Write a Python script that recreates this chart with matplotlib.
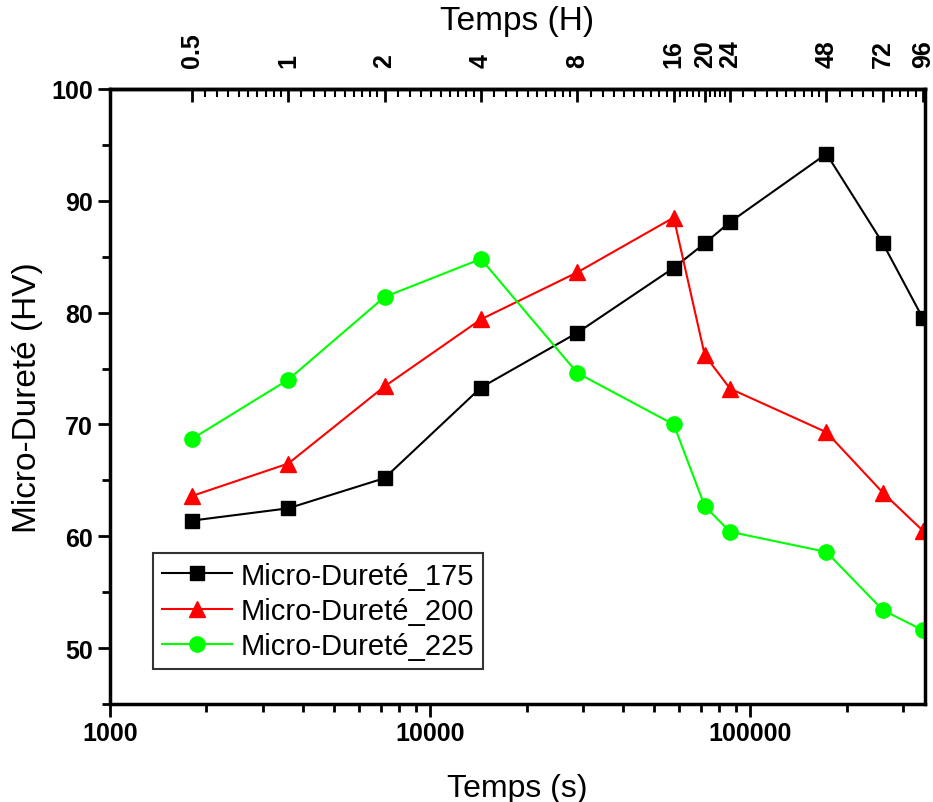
import matplotlib.pyplot as plt
import numpy as np
from matplotlib.ticker import FixedLocator, NullFormatter

plt.rcParams['font.family'] = ['Liberation Sans', 'DejaVu Sans']

# temps en heures
heures = np.array([0.5, 1, 2, 4, 8, 16, 20, 24, 48, 72, 96])
temps_s = heures * 3600

durete_175 = [61.4, 62.5, 65.2, 73.3, 78.2, 84.0, 86.2, 88.1, 94.2, 86.2, 79.5]
durete_200 = [63.6, 66.5, 73.4, 79.4, 83.6, 88.5, 76.2, 73.2, 69.3, 63.9, 60.5]
durete_225 = [68.7, 74.0, 81.4, 84.8, 74.6, 70.0, 62.7, 60.4, 58.6, 53.4, 51.6]

labels_h = ['0.5', '1', '2', '4', '8', '16', '20', '24', '48', '72', '96']

fig = plt.figure(figsize=(9.33, 8.03), dpi=100)
ax = fig.add_axes([0.118, 0.122, 0.873, 0.766])

ax.plot(temps_s, durete_175, color='black', marker='s', ms=10, lw=1.5, label='Micro-Dureté_175')
ax.plot(temps_s, durete_200, color='red', marker='^', ms=12, lw=1.5, label='Micro-Dureté_200')
ax.plot(temps_s, durete_225, color='#00ff00', marker='o', ms=11, lw=1.5, label='Micro-Dureté_225')

ax.set_xscale('log')
ax.set_xlim(1000, 350000)
ax.set_ylim(45, 100)
ax.set_yticks([50, 60, 70, 80, 90, 100])
ax.set_yticks(np.arange(45, 100, 5), minor=True)
ax.set_xticks([1000, 10000, 100000])
ax.set_xticklabels(['1000', '10000', '100000'])

for s in ax.spines.values():
    s.set_linewidth(2.5)
ax.tick_params(which='major', length=9, width=2, labelsize=18)
ax.tick_params(which='minor', length=6, width=2)
for t in ax.get_xticklabels() + ax.get_yticklabels():
    t.set_fontweight('bold')

ax.set_xlabel('Temps (s)', fontsize=23, labelpad=20)
ax.set_ylabel('Micro-Dureté (HV)', fontsize=24, labelpad=6)

# axe du haut en heures
sec = ax.secondary_xaxis('top', functions=(lambda s: s / 3600, lambda h: h * 3600))
sec.xaxis.set_major_locator(FixedLocator(heures))
sec.set_xticklabels(labels_h, rotation=90, fontweight='bold', fontsize=18)
# graduations mineures: 10 pas entre chaque repere
mineurs = []
bornes = [0.5, 1, 2, 4, 8, 16, 24, 48, 96]
for a, b in zip(bornes[:-1], bornes[1:]):
    pas = (b - a) / 10 if b != 24 else 0.8
    mineurs.extend(np.arange(a + pas, b - 1e-9, pas))
sec.xaxis.set_minor_locator(FixedLocator(mineurs))
sec.xaxis.set_minor_formatter(NullFormatter())
sec.tick_params(which='major', direction='in', length=9, width=2, pad=16)
sec.tick_params(which='minor', direction='in', length=6, width=1.5)
sec.spines['top'].set_linewidth(2.5)
sec.set_xlabel('Temps (H)', fontsize=24, labelpad=2)

leg = ax.legend(loc='lower left', bbox_to_anchor=(0.053, 0.057), fontsize=21,
                frameon=True, fancybox=False, edgecolor='black', handlelength=2.4,
                borderpad=0.3, labelspacing=0.25, handletextpad=0.3, borderaxespad=0)
leg.get_frame().set_linewidth(1.5)

fig.savefig('out.png', dpi=100)
